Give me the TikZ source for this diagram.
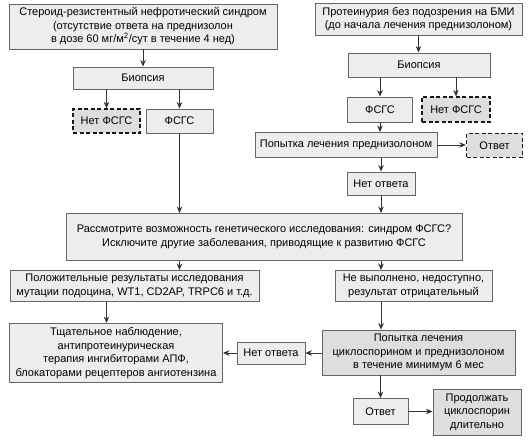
\documentclass[tikz,border=0pt]{standalone}
\usepackage{fontspec}
\setmainfont{Liberation Sans}
\usetikzlibrary{arrows.meta}
\tikzset{
	box/.style={draw=black!60, line width=0.9pt, fill=black!7, align=center, inner sep=1pt, font=\fontsize{11}{13.5}\selectfont},
	darkbox/.style={box, fill=black!13},
	dashbox/.style={box, draw=black!90, fill=black!13, dash pattern=on 4pt off 2.5pt, line width=1.3pt},
	arr/.style={draw=black!80, line width=0.9pt, -{Stealth[length=6.5pt,width=5.5pt]}}
}

\begin{document}
\begin{tikzpicture}[x=1pt,y=-1pt]
				\useasboundingbox (0,0) rectangle (531,444);
				
				\node[box, minimum width=268pt, minimum height=45pt] (src1) at (143,26.5) {Стероид-резистентный нефротический синдром\\(отсутствие ответа на преднизолон\\в дозе 60 мг/м\textsuperscript{2}/сут в течение 4 нед)};
				\node[box, minimum width=140pt, minimum height=22pt] (biopL) at (143,78) {Биопсия};
				\node[dashbox, minimum width=67pt, minimum height=24pt] (netL) at (106.5,121) {Нет ФСГС};
				\node[box, minimum width=67pt, minimum height=24pt] (fsgsL) at (179.5,121) {ФСГС};
				
				\node[box, minimum width=207pt, minimum height=32pt] (src2) at (418.5,19) {Протеинурия без подозрения на БМИ\\(до начала лечения преднизолоном)};
				\node[box, minimum width=142pt, minimum height=24pt] (biopR) at (419,65) {Биопсия};
				\node[box, minimum width=65pt, minimum height=25pt] (fsgsR) at (380,109.5) {ФСГС};
				\node[dashbox, minimum width=68pt, minimum height=25pt] (netR) at (456,109.5) {Нет ФСГС};
				\node[box, minimum width=182pt, minimum height=25pt] (tryP) at (346,145) {Попытка лечения преднизолоном};
				\node[dashbox, minimum width=56pt, minimum height=24pt] (respP) at (494.5,145.5) {Ответ};
				\node[box, minimum width=68pt, minimum height=23pt] (noresp1) at (381,183.5) {Нет ответа};
				
				\node[box, minimum width=396pt, minimum height=47pt] (gen) at (264,237) {Рассмотрите возможность генетического исследования: синдром ФСГС?\\Исключите другие заболевания, приводящие к развитию ФСГС};
				
				\node[box, minimum width=249pt, minimum height=31pt] (pos) at (134.5,286) {Положительные результаты исследования\\мутации подоцина, WT1, CD2AP, TRPC6 и т.д.};
				\node[box, minimum width=157pt, minimum height=31pt] (neg) at (413.5,286) {Не выполнено, недоступно,\\результат отрицательный};
				
				\node[box, minimum width=213pt, minimum height=59pt] (obs) at (116,353) {Тщательное наблюдение,\\антипротеинурическая\\терапия ингибиторами АПФ,\\блокаторами рецептеров ангиотензина};
				\node[box, minimum width=68pt, minimum height=22pt] (noresp2) at (271,353) {Нет ответа};
				\node[darkbox, minimum width=193pt, minimum height=45pt] (cyc) at (418.5,352.5) {Попытка лечения\\циклоспорином и преднизолоном\\в течение минимум 6 мес};
				\node[box, minimum width=55pt, minimum height=26pt] (resp2) at (380.5,411.5) {Ответ};
				\node[darkbox, minimum width=88pt, minimum height=46pt] (cont) at (477,412) {Продолжать\\циклоспорин\\длительно};
				
				\draw[arr] (src1.south -| biopL.north) -- (biopL.north);
				\draw[arr] (netL.north |- biopL.south) -- (netL.north);
				\draw[arr] (fsgsL.north |- biopL.south) -- (fsgsL.north);
				\draw[arr] (fsgsL.south) -- (fsgsL.south |- gen.north);
				
				\draw[arr] (src2.south) -- (src2.south |- biopR.north);
				\draw[arr] (fsgsR.north |- biopR.south) -- (fsgsR.north);
				\draw[arr] (netR.north |- biopR.south) -- (netR.north);
				\draw[arr] (fsgsR.south) -- (fsgsR.south |- tryP.north);
				\draw[arr] (tryP.east) -- (tryP.east -| respP.west);
				\draw[arr] (noresp1.north |- tryP.south) -- (noresp1.north);
				\draw[arr] (noresp1.south) -- (noresp1.south |- gen.north);
				
				\draw[arr] (gen.south -| fsgsL) -- (pos.north -| fsgsL);
				\draw[arr] (gen.south -| noresp1) -- (neg.north -| noresp1);
				\draw[arr] (pos.south -| netL) -- (obs.north -| netL);
				\draw[arr] (neg.south -| noresp1) -- (cyc.north -| noresp1);
				
				\draw[arr] (cyc.west |- noresp2) -- (noresp2.east);
				\draw[arr] (noresp2.west) -- (noresp2.west -| obs.east);
				\draw[arr] (resp2.north |- cyc.south) -- (resp2.north);
				\draw[arr] (resp2.east) -- (resp2.east -| cont.west);
			\end{tikzpicture}
\end{document}
